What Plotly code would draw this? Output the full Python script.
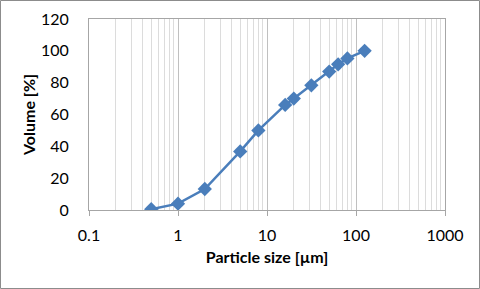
import plotly.graph_objects as go

particle_size = [0.5, 1, 2, 5, 8, 16, 20, 31.5, 50, 63, 80, 125]
volume = [0.5, 4, 13.2, 36.8, 50, 66, 70, 78.3, 87, 91.5, 95.2, 100]

x_tick_vals = [0.1, 1, 10, 100, 1000]
x_tick_text = ["0.1", "1", "10", "100", "1000"]
y_tick_vals = [0, 20, 40, 60, 80, 100, 120]

FONT = "Lato"
FS = 16
blue = "#4a7ebb"

fig = go.Figure()
fig.add_trace(go.Scatter(
    x=particle_size, y=volume, mode="lines+markers",
    line=dict(color=blue, width=2.5),
    marker=dict(symbol="diamond", size=11, color=blue),
    showlegend=False,
))

fig.update_layout(
    width=480, height=289,
    margin=dict(l=89, r=35, t=19, b=79, autoexpand=False),
    paper_bgcolor="white", plot_bgcolor="white",
    font=dict(family=FONT, size=FS, color="#000000"),
    xaxis=dict(
        type="log", range=[-1, 3], automargin=False,
        tickvals=x_tick_vals, ticktext=x_tick_text,
        showgrid=True, gridcolor="#c0c0c0", gridwidth=1,
        minor=dict(dtick="D1", showgrid=True, gridcolor="#dcdcdc", gridwidth=1, ticks=""),
        showline=True, linecolor="#a6a6a6", linewidth=1, mirror=True,
        ticks="outside", ticklen=5, tickcolor="#a6a6a6",
        ticklabelstandoff=6,
        zeroline=False,
        title=dict(text="<b>Particle size [µm]</b>", standoff=8, font=dict(size=FS)),
    ),
    yaxis=dict(
        range=[0, 120], tickvals=y_tick_vals, automargin=False,
        showgrid=False, zeroline=False,
        showline=True, linecolor="#a6a6a6", linewidth=1, mirror=True,
        ticks="outside", ticklen=8, tickcolor="rgba(0,0,0,0)",
        ticklabelstandoff=8,
        title=dict(text="<b>Volume [%]</b>", standoff=1, font=dict(size=FS)),
    ),
    shapes=[dict(
        type="rect", xref="paper", yref="paper",
        x0=(0.5 - 89) / 356, x1=(479.5 - 89) / 356,
        y0=(210 - 288.5) / 191, y1=(210 - 0.5) / 191,
        line=dict(color="#8c8c8c", width=1), layer="below",
    )],
)

fig.write_html("out.html", config={"displayModeBar": False},
               post_script="document.body.style.margin='0';")
